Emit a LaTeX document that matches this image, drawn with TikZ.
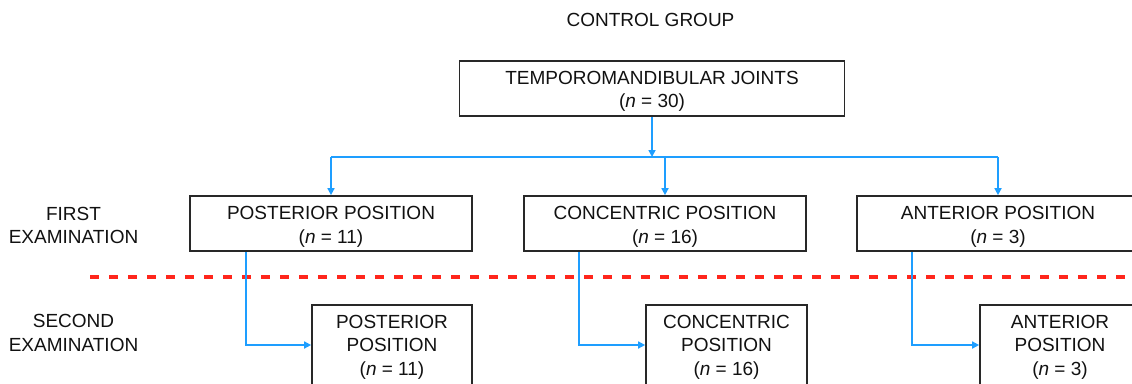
\documentclass[tikz,border=0pt]{standalone}
\usepackage{fontspec}
\setmainfont{Liberation Sans}
\usetikzlibrary{arrows.meta}
\definecolor{linkblue}{RGB}{30,158,255}
\definecolor{sepred}{RGB}{255,38,28}
\definecolor{boxline}{RGB}{40,40,40}
\definecolor{txt}{RGB}{17,17,17}
\newcommand\bxt[2]{\raisebox{#1}[\height][\depth]{\begin{tabular}{@{}c@{}}#2\end{tabular}}}
\tikzset{
  boxnode/.style={draw=boxline, line width=1.7pt, inner sep=0pt, align=center,
    text=txt, font=\fontsize{19}{23.5}\selectfont},
  conn/.style={draw=linkblue, line width=1.6pt,
    -{Triangle[length=7pt,width=7pt]}},
  plainconn/.style={draw=linkblue, line width=1.6pt},
  lbl/.style={align=center, text=txt, font=\fontsize{19}{23.5}\selectfont, inner sep=0pt},
  sep/.style={draw=sepred, line width=4pt, dash pattern=on 9pt off 10pt}
}
\begin{document}
\begin{tikzpicture}[x=1pt,y=-1pt]
\useasboundingbox (0,0) rectangle (1132,383);
\clip (0,0) rectangle (1132,383);

\node[lbl] (title) at (650.5,19.5) {CONTROL GROUP};

\node[boxnode, minimum width=385pt, minimum height=55pt] (top) at (652,88.5)
  {\bxt{-3pt}{TEMPOROMANDIBULAR JOINTS\\(\textit{n} = 30)}};

\node[boxnode, minimum width=282pt, minimum height=55pt] (post1) at (331,223.5)
  {\bxt{-3.5pt}{POSTERIOR POSITION\\(\textit{n} = 11)}};
\node[boxnode, minimum width=282pt, minimum height=55pt] (conc1) at (665,223.5)
  {\bxt{-3.5pt}{CONCENTRIC POSITION\\(\textit{n} = 16)}};
\node[boxnode, minimum width=282pt, minimum height=55pt] (ant1) at (998,223.5)
  {\bxt{-3.5pt}{ANTERIOR POSITION\\(\textit{n} = 3)}};

\node[boxnode, minimum width=160pt, minimum height=80pt] (post2) at (392,345)
  {\bxt{-2pt}{POSTERIOR\\POSITION\\(\textit{n} = 11)}};
\node[boxnode, minimum width=161pt, minimum height=80pt] (conc2) at (726.5,345)
  {\bxt{-2pt}{CONCENTRIC\\POSITION\\(\textit{n} = 16)}};
\node[boxnode, minimum width=160pt, minimum height=80pt] (ant2) at (1060,345)
  {\bxt{-2pt}{ANTERIOR\\POSITION\\(\textit{n} = 3)}};

\node[lbl] (first) at (73.5,225.5) {FIRST\\EXAMINATION};
\node[lbl] (second) at (73.5,333) {SECOND\\EXAMINATION};

% separator
\coordinate (sepL) at (90,277);
\coordinate (sepR) at (1140,277);
\draw[sep] (sepL) -- (sepR);

% branching
\coordinate (hl) at (331,157);
\coordinate (hr) at (998,157);
\draw[plainconn] (hl) -- (hr);
\draw[conn] (top.south) -- (top.south |- hl);
\draw[conn] (hl) -- (post1.north);
\draw[conn] (conc1.north |- hl) -- (conc1.north);
\draw[conn] (hr) -- (ant1.north);

% to second examination
\draw[conn] ([xshift=57pt]post1.south west) |- (post2.west);
\draw[conn] ([xshift=56pt]conc1.south west) |- (conc2.west);
\draw[conn] ([xshift=56pt]ant1.south west) |- (ant2.west);
\end{tikzpicture}
\end{document}
